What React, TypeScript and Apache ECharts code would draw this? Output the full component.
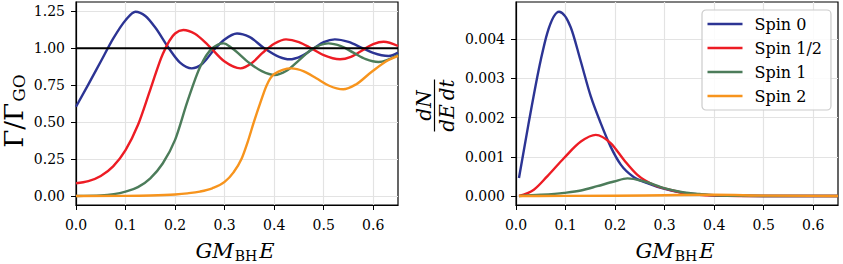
import React, { useEffect, useRef } from "react";
import * as echarts from "echarts";

// ---------- data ----------
const seriesNames = ["Spin 0", "Spin 1/2", "Spin 1", "Spin 2"];
const seriesColors = ["#2c3494", "#ed1c24", "#4c7c5a", "#f7941d"];

const xTicks = [0, 0.1, 0.2, 0.3, 0.4, 0.5, 0.6];
const gammaTicks = [0, 0.25, 0.5, 0.75, 1.0, 1.25];
const rateTicks = [0, 0.001, 0.002, 0.003, 0.004];

// left panel: Gamma / Gamma_GO
const spin0E = [0, 0.025, 0.05, 0.075, 0.1, 0.12, 0.14, 0.16, 0.186, 0.21, 0.2335, 0.255, 0.28, 0.3, 0.325, 0.35, 0.38, 0.41, 0.431, 0.455, 0.48, 0.5, 0.5225, 0.55, 0.577, 0.6, 0.631, 0.65];
const spin0Gamma = [0.604, 0.755, 0.91, 1.065, 1.19, 1.247, 1.218, 1.14, 1.007, 0.903, 0.864, 0.895, 0.995, 1.059, 1.1, 1.077, 1.0, 0.942, 0.925, 0.947, 1.0, 1.041, 1.06, 1.043, 1.003, 0.968, 0.947, 0.97];

const spin12E = [0, 0.025, 0.05, 0.075, 0.1, 0.125, 0.15, 0.175, 0.2, 0.2166, 0.24, 0.267, 0.3, 0.332, 0.355, 0.377, 0.4, 0.424, 0.45, 0.475, 0.5, 0.533, 0.555, 0.575, 0.6, 0.621, 0.65];
const spin12Gamma = [0.086, 0.1, 0.135, 0.2, 0.31, 0.48, 0.72, 0.96, 1.1, 1.123, 1.098, 1.02, 0.91, 0.864, 0.9, 0.97, 1.03, 1.06, 1.042, 0.999, 0.953, 0.925, 0.942, 0.98, 1.028, 1.044, 1.015];

const spin1E = [0, 0.05, 0.1, 0.125, 0.15, 0.175, 0.2, 0.225, 0.25, 0.275, 0.298, 0.315, 0.35, 0.375, 0.401, 0.425, 0.45, 0.475, 0.509, 0.535, 0.56, 0.585, 0.6106, 0.65];
const spin1Gamma = [0, 0.004, 0.03, 0.06, 0.12, 0.22, 0.38, 0.64, 0.87, 1.0, 1.033, 1.0, 0.9, 0.845, 0.819, 0.848, 0.918, 0.99, 1.033, 1.014, 0.97, 0.926, 0.907, 0.954];

const spin2E = [0, 0.1, 0.15, 0.2, 0.225, 0.25, 0.275, 0.3, 0.318, 0.334, 0.347, 0.359, 0.372, 0.385, 0.4, 0.4345, 0.46, 0.485, 0.51, 0.5395, 0.565, 0.597, 0.631, 0.65];
const spin2Gamma = [0, 0.001, 0.003, 0.01, 0.018, 0.03, 0.052, 0.095, 0.16, 0.25, 0.37, 0.5, 0.63, 0.75, 0.825, 0.864, 0.844, 0.797, 0.748, 0.722, 0.755, 0.841, 0.92, 0.949];

const geometricE = [0, 0.65];
const geometricLevel = [1, 1];

// right panel: dN / dE dt
const rate0E = [0.006, 0.025, 0.05, 0.063, 0.087, 0.11, 0.13, 0.151, 0.171, 0.191, 0.2115, 0.238, 0.265, 0.3, 0.333, 0.37, 0.4, 0.45, 0.5, 0.65];
const spin0Rate = [0.00046, 0.00182, 0.00347, 0.00415, 0.0047, 0.00432, 0.00347, 0.00254, 0.00186, 0.00126, 0.0008, 0.00048, 0.00033, 0.00018, 0.00009, 0.00004, 0.00002, 0.000005, 0, 0];

const rate12E = [0.006, 0.036, 0.063, 0.097, 0.131, 0.161, 0.191, 0.218, 0.245, 0.279, 0.31, 0.333, 0.37, 0.4, 0.45, 0.65];
const spin12Rate = [0, 0.00016, 0.0005, 0.00097, 0.00139, 0.00156, 0.00135, 0.00092, 0.00054, 0.00028, 0.00016, 0.00009, 0.00003, 0.00001, 0, 0];

const rate1E = [0.006, 0.05, 0.097, 0.131, 0.164, 0.198, 0.225, 0.259, 0.299, 0.339, 0.37, 0.4, 0.45, 0.5, 0.65];
const spin1Rate = [0, 0.00003, 0.00008, 0.00014, 0.00025, 0.00037, 0.00045, 0.00037, 0.0002, 0.00009, 0.00005, 0.00002, 0.000005, 0, 0];

const rate2E = [0.006, 0.1, 0.2, 0.3, 0.4, 0.5, 0.6, 0.65];
const spin2Rate = [0, 0.000002, 0.000006, 0.00002, 0.00003, 0.00001, 0.000002, 0];

// ---------- helpers ----------
const zip = (xs: number[], ys: number[]) => xs.map((x, i) => [x, ys[i]]);
const FAMILY = "DejaVu Serif";
const SERIF = "'DejaVu Serif', serif";

function measure(font: string, text: string) {
  const c = document.createElement("canvas").getContext("2d");
  if (!c) return text.length * 10;
  c.font = font;
  return c.measureText(text).width;
}

// monotone cubic path through pixel points
function monotonePath(pts: number[][]) {
  const n = pts.length;
  if (n < 2) return "";
  const t: number[] = new Array(n).fill(0);
  const sgn = (v: number) => (v < 0 ? -1 : v > 0 ? 1 : 0);
  for (let i = 1; i < n - 1; i++) {
    const h0 = pts[i][0] - pts[i - 1][0];
    const h1 = pts[i + 1][0] - pts[i][0];
    const s0 = (pts[i][1] - pts[i - 1][1]) / h0;
    const s1 = (pts[i + 1][1] - pts[i][1]) / h1;
    const p = (s0 * h1 + s1 * h0) / (h0 + h1);
    t[i] = (sgn(s0) + sgn(s1)) * Math.min(Math.abs(s0), Math.abs(s1), 0.5 * Math.abs(p)) || 0;
  }
  {
    const h = pts[1][0] - pts[0][0];
    t[0] = (3 * (pts[1][1] - pts[0][1]) / h - t[1]) / 2;
    const k = n - 1;
    const hk = pts[k][0] - pts[k - 1][0];
    t[k] = (3 * (pts[k][1] - pts[k - 1][1]) / hk - t[k - 1]) / 2;
  }
  let d = `M${pts[0][0]},${pts[0][1]}`;
  for (let i = 0; i < n - 1; i++) {
    const [x0, y0] = pts[i];
    const [x1, y1] = pts[i + 1];
    const dx = (x1 - x0) / 3;
    d += ` C${x0 + dx},${y0 + dx * t[i]} ${x1 - dx},${y1 - dx * t[i + 1]} ${x1},${y1}`;
  }
  return d;
}

function makeXAxis(gridIndex: number) {
  return {
    type: "value",
    gridIndex,
    min: 0,
    max: 0.65,
    axisLine: { show: true, onZero: false, lineStyle: { color: "#000", width: 1.2 } },
    axisTick: { show: true, inside: false, length: 5, lineStyle: { color: "#000", width: 1 }, customValues: xTicks },
    axisLabel: {
      customValues: xTicks,
      formatter: (v: number) => v.toFixed(1),
      margin: 13,
      color: "#000",
      fontFamily: FAMILY,
      fontSize: 14,
    },
    splitLine: { show: true, lineStyle: { color: "#e3e3e3", width: 1.2 } },
  };
}

function makeYAxis(gridIndex: number, min: number, max: number, ticks: number[], digits: number) {
  return {
    type: "value",
    gridIndex,
    min,
    max,
    axisLine: { show: true, onZero: false, lineStyle: { color: "#000", width: 1.2 } },
    axisTick: { show: true, inside: false, length: 5, lineStyle: { color: "#000", width: 1 }, customValues: ticks },
    axisLabel: {
      customValues: ticks,
      formatter: (v: number) => v.toFixed(digits),
      margin: 11,
      color: "#000",
      fontFamily: FAMILY,
      fontSize: 14,
    },
    splitLine: { show: true, lineStyle: { color: "#e3e3e3", width: 1.2 } },
  };
}

function curveSeries(name: string, color: string, data: number[][], idx: number) {
  return {
    type: "custom",
    name,
    xAxisIndex: idx,
    yAxisIndex: idx,
    data,
    encode: { x: 0, y: 1 },
    itemStyle: { color },
    z: 2,
    silent: true,
    renderItem: (params: any, api: any) => {
      if (params.dataIndex !== 0) return null;
      const pts = data.map((p) => api.coord(p));
      return {
        type: "path",
        shape: { pathData: monotonePath(pts) },
        style: { stroke: color, lineWidth: 2.4, fill: "none" },
      };
    },
  };
}

function txt(text: string, x: number, y: number, font: string, align = "left") {
  return {
    type: "text",
    x,
    y,
    silent: true,
    style: {
      text,
      font,
      fill: "#000",
      align,
      textAlign: align,
      verticalAlign: "middle",
      textVerticalAlign: "middle",
    },
  };
}

const MAIN_IT = `italic 21px ${SERIF}`;
const SUB = `14px ${SERIF}`;

function xTitle(center: number) {
  const wGM = measure(MAIN_IT, "GM");
  const wBH = measure(SUB, "BH");
  const wE = measure(MAIN_IT, "E");
  const total = wGM + 1 + wBH + 2 + wE;
  const x0 = center - total / 2;
  return [
    txt("GM", x0, 250.5, MAIN_IT),
    txt("BH", x0 + wGM + 1, 255.5, SUB),
    txt("E", x0 + wGM + 1 + wBH + 2, 250.5, MAIN_IT),
  ];
}

function yTitle() {
  const mainFont = `26px ${SERIF}`;
  const subFont = `17px ${SERIF}`;
  const w1 = measure(mainFont, "Γ/Γ");
  const w2 = measure(subFont, "GO");
  const start = -(w1 + w2 + 1) / 2;
  return {
    type: "group",
    x: 14,
    y: 111,
    rotation: Math.PI / 2,
    children: [txt("Γ/Γ", start, 0, mainFont), txt("GO", start + w1 + 1, 5, subFont)],
  };
}

export default function App() {
  const ref = useRef<HTMLDivElement>(null);

  useEffect(() => {
    if (!ref.current) return;
    const chart = echarts.init(ref.current, null, { renderer: "svg" });

    const gammaData = [zip(spin0E, spin0Gamma), zip(spin12E, spin12Gamma), zip(spin1E, spin1Gamma), zip(spin2E, spin2Gamma)];
    const rateData = [zip(rate0E, spin0Rate), zip(rate12E, spin12Rate), zip(rate1E, spin1Rate), zip(rate2E, spin2Rate)];

    const option: any = {
      animation: false,
      backgroundColor: "#fff",
      grid: [
        { left: 76, top: 2, width: 322, height: 203, show: true, borderColor: "#000", borderWidth: 1.2, backgroundColor: "transparent" },
        { left: 516, top: 2, width: 322, height: 203, show: true, borderColor: "#000", borderWidth: 1.2, backgroundColor: "transparent" },
      ],
      xAxis: [makeXAxis(0), makeXAxis(1)],
      yAxis: [
        makeYAxis(0, -0.061, 1.313, gammaTicks, 2),
        makeYAxis(1, -0.00023, 0.00495, rateTicks, 3),
      ],
      legend: {
        data: seriesNames,
        orient: "vertical",
        left: 702,
        top: 10,
        padding: [6, 9, 6, 5.5],
        itemGap: 8,
        itemWidth: 35,
        itemHeight: 2.6,
        icon: "rect",
        backgroundColor: "rgba(255,255,255,0.85)",
        borderColor: "#cccccc",
        borderWidth: 1.2,
        borderRadius: 4,
        selectedMode: false,
        textStyle: { fontFamily: FAMILY, fontSize: 16, color: "#000", padding: [0, 0, 0, 7] },
      },
      series: [
        ...seriesNames.map((n, i) => curveSeries(n, seriesColors[i], gammaData[i], 0)),
        {
          type: "line",
          name: "geometric",
          xAxisIndex: 0,
          yAxisIndex: 0,
          data: zip(geometricE, geometricLevel),
          symbol: "none",
          lineStyle: { color: "#000", width: 2 },
          z: 4,
          silent: true,
        },
        ...seriesNames.map((n, i) => curveSeries(n, seriesColors[i], rateData[i], 1)),
      ],
      graphic: [
        ...xTitle(235),
        ...xTitle(675),
        yTitle(),
        {
          type: "group",
          x: 434.5,
          y: 105.5,
          rotation: Math.PI / 2,
          children: [
            txt("dN", 0, -11, `italic 20px ${SERIF}`, "center"),
            { type: "line", shape: { x1: -26, y1: 0, x2: 26, y2: 0 }, style: { stroke: "#000", lineWidth: 1.2 } },
            txt("dE\u2009dt", 0, 12, `italic 20px ${SERIF}`, "center"),
          ],
        },
      ],
    };

    chart.setOption(option);
    return () => chart.dispose();
  }, []);

  return (
    <div
      ref={ref}
      style={{ position: "fixed", left: 0, top: 0, width: 843, height: 264, background: "#fff" }}
    />
  );
}
